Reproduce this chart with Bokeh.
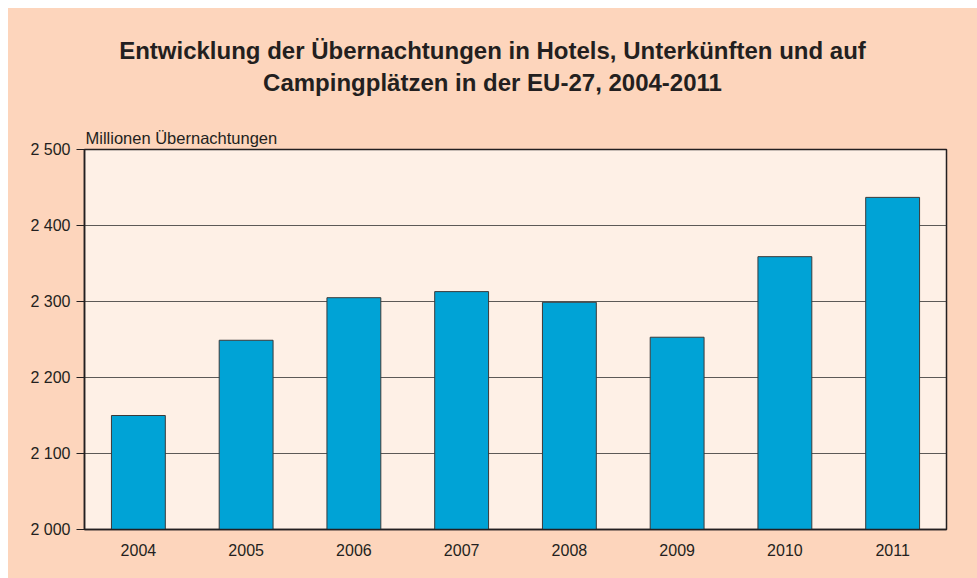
from bokeh.plotting import figure
from bokeh.models import Title, FixedTicker, Range1d, Spacer, Div
from bokeh.layouts import column, row
from bokeh.embed import file_html
from bokeh.resources import INLINE

years = ["2004", "2005", "2006", "2007", "2008", "2009", "2010", "2011"]
nights = [2150, 2249, 2305, 2313, 2299, 2253, 2359, 2437]
y_ticks = [2000, 2100, 2200, 2300, 2400, 2500]
y_tick_labels = {t: f"{t:,}".replace(",", " ") for t in y_ticks}
title_lines = ["Entwicklung der Übernachtungen in Hotels, Unterkünften und auf",
               "Campingplätzen in der EU-27, 2004-2011"]
unit_label = "Millionen Übernachtungen"

BG = "#FDD5BC"
PLOT_BG = "#FEF0E6"
BAR = "#00A3D6"
INK = "#231F20"
FONT = "Liberation Sans"

HEAD_H = 100
head = Div(
    text=("<div style=\"padding-top:27px; line-height:32px; font-weight:bold; font-size:24px; "
          f"font-family:'{FONT}'; color:{INK}; text-align:center; width:969px;\">"
          + "<br>".join(title_lines) + "</div>"),
    width=969, height=HEAD_H, margin=0,
    styles={"background-color": BG, "margin": "0", "padding": "0"})

p = figure(x_range=years, y_range=Range1d(2000, 2500), width=969, height=570 - HEAD_H,
           output_backend="svg", toolbar_location=None, title=None,
           background_fill_color=PLOT_BG, border_fill_color=BG, margin=0,
           min_border_left=76, min_border_right=31, min_border_bottom=49,
           min_border_top=141 - HEAD_H)

p.add_layout(Title(text=unit_label, align="left", text_font=FONT, text_font_size="16.5px",
                   text_font_style="normal", text_color=INK, offset=1, standoff=6), "above")

p.vbar(x=years, top=nights, bottom=2000, width=0.5, fill_color=BAR,
       line_color="#3a3a3a", line_width=1)

p.outline_line_color = INK
p.outline_line_width = 1.5

p.xgrid.grid_line_color = None
p.ygrid.grid_line_color = "#333333"
p.ygrid.grid_line_alpha = 0.8
p.ygrid.ticker = FixedTicker(ticks=y_ticks)

p.yaxis.ticker = FixedTicker(ticks=y_ticks)
p.yaxis.major_label_overrides = y_tick_labels
p.yaxis.major_tick_out = 8
p.yaxis.major_tick_in = 0
p.yaxis.minor_tick_line_color = None
p.yaxis.major_label_standoff = 6
p.yaxis.axis_line_color = INK
p.yaxis.axis_line_width = 1.5
p.yaxis.major_tick_line_color = INK

p.xaxis.major_tick_line_color = None
p.xaxis.axis_line_color = INK
p.xaxis.axis_line_width = 1.5
p.xaxis.major_label_standoff = 8

for ax in (p.xaxis, p.yaxis):
    ax.major_label_text_font = FONT
    ax.major_label_text_font_size = "16px"
    ax.major_label_text_color = INK

inner = column(head, p, spacing=0, margin=0, styles={"background-color": BG})
layout = column(Spacer(width=977, height=8, margin=0),
                row(Spacer(width=8, height=570, margin=0), inner, spacing=0, margin=0),
                spacing=0, margin=0)

open("out.html", "w").write(file_html(layout, INLINE))
